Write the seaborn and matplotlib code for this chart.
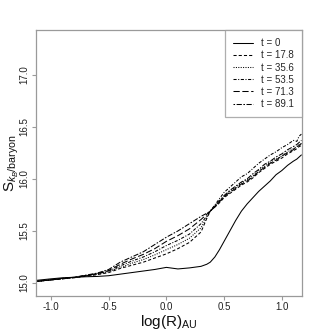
import matplotlib
matplotlib.use("Agg")
import matplotlib.pyplot as plt
import seaborn as sns
import pandas as pd

# ---- data ----
x_vals = [-1.13, -1.0, -0.9, -0.8, -0.7, -0.6, -0.5, -0.4, -0.3, -0.2, -0.1, 0.0,
          0.1, 0.2, 0.3, 0.35, 0.38, 0.42, 0.46, 0.5, 0.55, 0.6, 0.65, 0.7, 0.75,
          0.8, 0.85, 0.9, 0.95, 1.0, 1.05, 1.1, 1.13, 1.15, 1.17]

labels = ["t = 0", "t = 17.8", "t = 35.6", "t = 53.5", "t = 71.3", "t = 89.1"]

s_t0 = [15.025, 15.04, 15.05, 15.055, 15.06, 15.063, 15.07, 15.085, 15.10, 15.115,
        15.13, 15.15, 15.135, 15.145, 15.16, 15.18, 15.20, 15.25, 15.32, 15.40,
        15.50, 15.60, 15.69, 15.76, 15.82, 15.88, 15.93, 15.98, 16.04, 16.08,
        16.13, 16.17, 16.19, 16.21, 16.23]
s_t178 = [15.015, 15.03, 15.04, 15.05, 15.065, 15.08, 15.10, 15.14, 15.17, 15.20,
          15.24, 15.28, 15.33, 15.39, 15.49, 15.62, 15.69,
          15.73, 15.77, 15.82, 15.86, 15.90, 15.94, 15.97, 16.01, 16.06, 16.10,
          16.14, 16.17, 16.20, 16.24, 16.27, 16.29, 16.31, 16.32]
s_t356 = [15.015, 15.03, 15.04, 15.052, 15.068, 15.085, 15.11, 15.15, 15.19, 15.225,
          15.27, 15.32, 15.37, 15.43, 15.53, 15.63, 15.69,
          15.74, 15.78, 15.83, 15.88, 15.92, 15.96, 15.99, 16.03, 16.08, 16.12,
          16.16, 16.19, 16.22, 16.26, 16.29, 16.31, 16.33, 16.34]
s_t535 = [15.015, 15.03, 15.042, 15.053, 15.07, 15.088, 15.115, 15.165, 15.21, 15.25,
          15.30, 15.36, 15.41, 15.47, 15.57, 15.645, 15.69,
          15.75, 15.81, 15.87, 15.92, 15.97, 16.02, 16.05, 16.10, 16.15, 16.19,
          16.23, 16.26, 16.30, 16.33, 16.37, 16.36, 16.41, 16.43]
s_t713 = [15.015, 15.03, 15.043, 15.054, 15.072, 15.09, 15.12, 15.18, 15.23, 15.275,
          15.33, 15.40, 15.455, 15.52, 15.61, 15.66, 15.69,
          15.73, 15.78, 15.83, 15.87, 15.91, 15.95, 15.98, 16.02, 16.07, 16.11,
          16.15, 16.18, 16.22, 16.25, 16.28, 16.31, 16.32, 16.34]
s_t891 = [15.015, 15.03, 15.045, 15.055, 15.075, 15.095, 15.13, 15.20, 15.25, 15.30,
          15.37, 15.44, 15.50, 15.57, 15.64, 15.67, 15.69,
          15.74, 15.79, 15.84, 15.89, 15.93, 15.97, 16.00, 16.05, 16.09, 16.14,
          16.17, 16.21, 16.24, 16.28, 16.31, 16.33, 16.35, 16.37]

x_ticks = [-1.0, -0.5, 0.0, 0.5, 1.0]
y_ticks = [15.0, 15.5, 16.0, 16.5, 17.0]

series = [s_t0, s_t178, s_t356, s_t535, s_t713, s_t891]
frames = []
for lab, ys in zip(labels, series):
    frames.append(pd.DataFrame({"x": x_vals, "y": ys, "t": lab}))
df = pd.concat(frames, ignore_index=True)

# ---- style ----
sns.set_theme(style="white")
plt.rcParams["font.family"] = ["Liberation Sans", "DejaVu Sans"]
plt.rcParams["mathtext.fontset"] = "custom"
plt.rcParams["mathtext.rm"] = "Liberation Sans"
plt.rcParams["mathtext.it"] = "Liberation Sans:italic"
plt.rcParams["mathtext.sf"] = "Liberation Sans"

fig = plt.figure(figsize=(3.32, 3.32), dpi=100)
ax = fig.add_axes([0.1084, 0.1084, 0.8012, 0.8012])

dashes = {
    "t = 0": "",
    "t = 17.8": (3, 2),
    "t = 35.6": (1, 1.3),
    "t = 53.5": (3, 1.5, 1, 1.5),
    "t = 71.3": (6, 2.5),
    "t = 89.1": (1.5, 1.5, 5, 1.5),
}
palette = {lab: "black" for lab in labels}

sns.lineplot(data=df, x="x", y="y", hue="t", style="t", hue_order=labels,
             style_order=labels, palette=palette, dashes=dashes,
             estimator=None, sort=False, linewidth=0.75, ax=ax, legend=True)

ax.set_xlim(-1.13, 1.175)
ax.set_ylim(14.875, 17.43)
ax.set_xticks(x_ticks)
ax.set_xticklabels([f"{v:.1f}" for v in x_ticks])
ax.set_yticks(y_ticks)
ax.set_yticklabels([f"{v:.1f}" for v in y_ticks], rotation=90, va="center")

frame_col = "#9a9a9a"
for sp in ax.spines.values():
    sp.set_color(frame_col)
    sp.set_linewidth(0.9)
ax.tick_params(axis="both", which="both", direction="out", length=3, width=0.8,
               color=frame_col, labelsize=7, labelcolor="#222222", pad=1.5,
               bottom=True, left=True)

ax.set_xlabel(r"log(R)$_{\mathrm{AU}}$", fontsize=11, color="#111111")
ax.xaxis.set_label_coords(0.5, -0.065, transform=ax.transAxes)
ax.xaxis.label.set_va("top")
ax.set_ylabel(r"S$_{k_B/\mathrm{baryon}}$", fontsize=11, color="#111111")
ax.yaxis.set_label_coords(-0.092, 0.5, transform=ax.transAxes)
ax.yaxis.label.set_va("center")

handles, labs = ax.get_legend_handles_labels()
leg = ax.legend(handles, labs, loc="upper right", bbox_to_anchor=(1.0, 1.0),
                borderaxespad=0, fontsize=7, frameon=True, fancybox=False,
                handlelength=2.0, handletextpad=0.85, labelspacing=0.22,
                borderpad=0.85, edgecolor=frame_col)
leg.get_frame().set_linewidth(0.9)
for line in leg.get_lines():
    line.set_linewidth(0.75)

fig.savefig("out.png", dpi=100, facecolor="white")
